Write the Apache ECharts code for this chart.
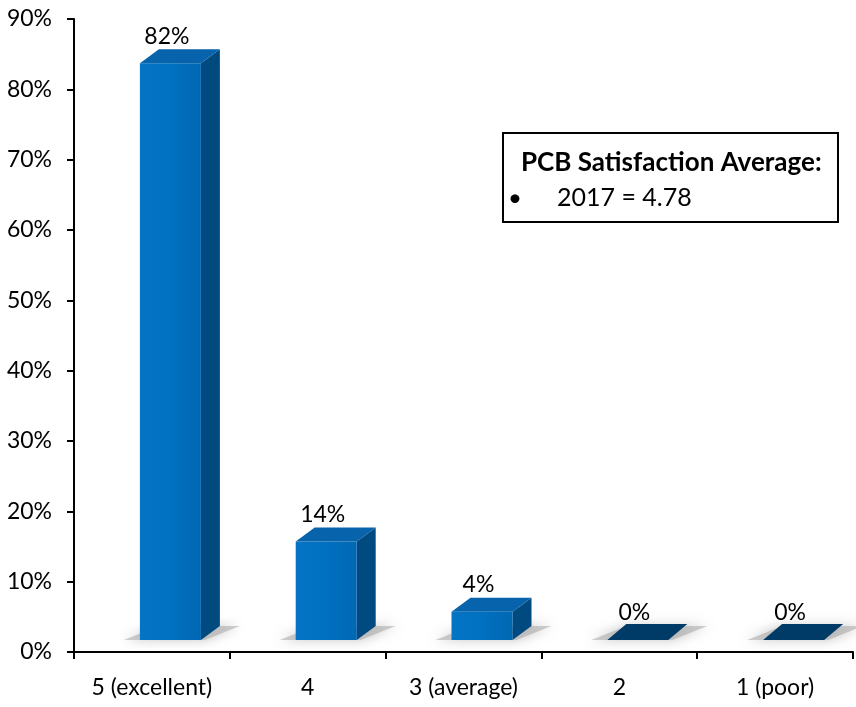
<!DOCTYPE html>
<html><head><meta charset="utf-8">
<script src="https://cdn.jsdelivr.net/npm/echarts@6/dist/echarts.min.js"></script>
<style>html,body{margin:0;padding:0;background:#fff}#c{width:856px;height:707px}</style>
</head><body><div id="c"></div>
<script>
const categories = ['5 (excellent)', '4', '3 (average)', '2', '1 (poor)'];
const values = [82, 14, 4, 0, 0];
const yTicks = [0, 10, 20, 30, 40, 50, 60, 70, 80, 90];
const boxTitle = 'PCB Satisfaction Average:';
const boxItems = ['2017 = 4.78'];

const FONT = 'Lato';
const chart = echarts.init(document.getElementById('c'));

function renderItem(params, api) {
  const idx = api.value(0), v = api.value(1);
  const top = api.coord([idx, v]);
  const base = api.coord([idx, 0]);
  const cx = top[0];
  const yOff = 12, dx = 19, dy = 14;
  const x0 = cx - 12, x1 = cx + 49;
  const yBot = base[1] - yOff;
  const yTop = top[1] - yOff;
  const children = [];
  children.push({
    type: 'polygon',
    shape: { points: [[x0 - 16, yBot], [x1 + 4, yBot], [x1 + dx + 20, yBot - dy], [x0 + dx, yBot - dy]] },
    style: { fill: 'rgba(160,160,160,0.5)', shadowBlur: 12, shadowColor: 'rgba(0,0,0,0.45)' }
  });
  if (v > 0) {
    children.push({
      type: 'polygon',
      shape: { points: [[x1, yTop], [x1 + dx, yTop - dy], [x1 + dx, yBot - dy], [x1, yBot]] },
      style: { fill: '#004A80' }
    });
    children.push({
      type: 'rect',
      shape: { x: x0, y: yTop, width: x1 - x0, height: yBot - yTop },
      style: { fill: new echarts.graphic.LinearGradient(0, 0, 1, 0, [
        { offset: 0, color: '#0574C4' }, { offset: 0.5, color: '#0070C0' }, { offset: 1, color: '#0068B3' }]) }
    });
    children.push({
      type: 'polygon',
      shape: { points: [[x0, yTop], [x1, yTop], [x1 + dx, yTop - dy], [x0 + dx, yTop - dy]] },
      style: { fill: '#0764AC' }
    });
  } else {
    children.push({
      type: 'polygon',
      shape: { points: [[x0, yBot], [x1, yBot], [x1 + dx, yBot - dy - 2], [x0 + dx, yBot - dy - 2]] },
      style: { fill: '#003A66' }
    });
  }
  children.push({
    type: 'text',
    style: { text: v + '%', x: cx + 15, y: yTop - dy - 13, align: 'center', verticalAlign: 'middle',
      font: '23px ' + FONT, fill: '#000' }
  });
  return { type: 'group', children };
}

chart.setOption({
  animation: false,
  backgroundColor: '#fff',
  grid: { left: 74, right: 3, top: 19, bottom: 55 },
  xAxis: {
    type: 'category', data: categories, boundaryGap: true,
    axisLine: { lineStyle: { color: '#000', width: 2 } },
    axisTick: { show: true, alignWithLabel: false, interval: 0, length: 7, lineStyle: { color: '#000', width: 2 } },
    axisLabel: { color: '#000', fontFamily: FONT, fontSize: 23, margin: 24, interval: 0, hideOverlap: false }
  },
  yAxis: {
    type: 'value', min: 0, max: 90, interval: 10,
    axisLine: { show: true, lineStyle: { color: '#000', width: 2 } },
    axisTick: { show: true, length: 7, lineStyle: { color: '#000', width: 2 } },
    splitLine: { show: false },
    axisLabel: { color: '#000', fontFamily: FONT, fontSize: 23, margin: 22, formatter: v => v + '%' }
  },
  series: [{
    type: 'custom', renderItem,
    data: values.map((v, i) => [i, v]),
    clip: false
  }],
  graphic: [
    { type: 'rect', shape: { x: 503, y: 133, width: 335, height: 89 },
      style: { fill: '#fff', stroke: '#000', lineWidth: 2 } },
    { type: 'text', x: 521, y: 163, style: { text: boxTitle, font: 'bold 26px ' + FONT, fill: '#000', verticalAlign: 'middle' } },
    { type: 'text', x: 508, y: 198, style: { text: '\u2022', font: '24px ' + FONT, fill: '#000', verticalAlign: 'middle' } },
    { type: 'text', x: 557, y: 198, style: { text: boxItems[0], font: '25px ' + FONT, fill: '#000', verticalAlign: 'middle' } }
  ]
});
</script></body></html>
